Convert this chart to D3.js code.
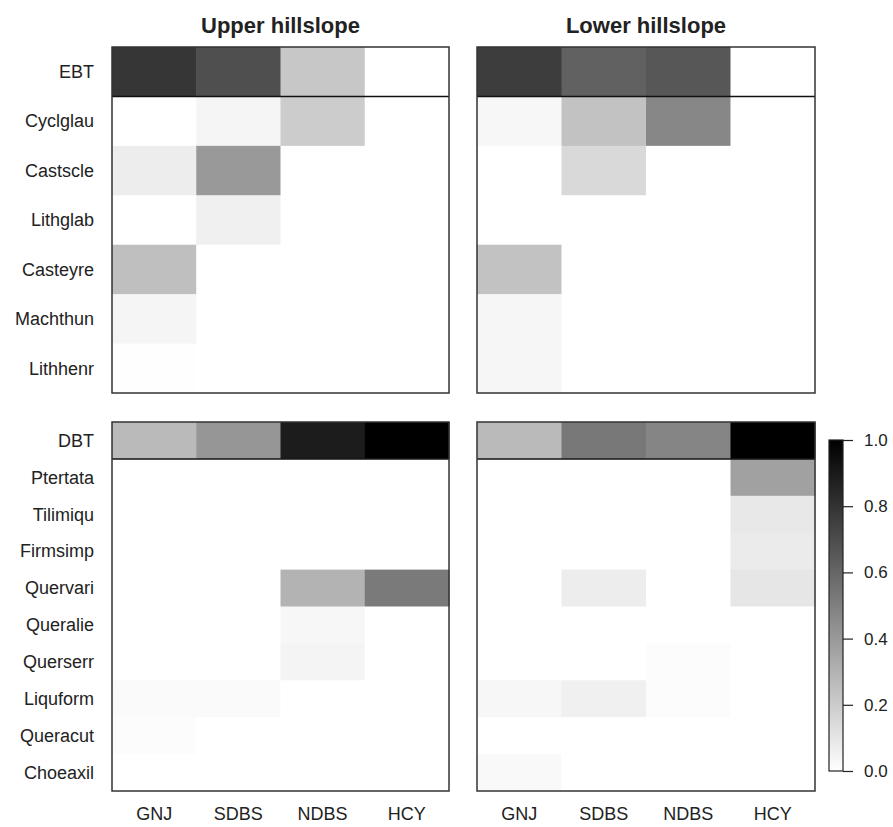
<!DOCTYPE html>
<html>
<head>
<meta charset="utf-8">
<script src="https://cdn.jsdelivr.net/npm/d3@7"></script>
<style>
  body { margin: 0; background: #fff; }
  text { font-family: "Liberation Sans", Arial, sans-serif; fill: #222; }
</style>
</head>
<body>
<div id="chart"></div>
<script>
// sites along x
const sites = ["GNJ", "SDBS", "NDBS", "HCY"];

// species of the evergreen block (first row is the EBT total)
const topRows = ["EBT", "Cyclglau", "Castscle", "Lithglab", "Casteyre", "Machthun", "Lithhenr"];
// species of the deciduous block (first row is the DBT total)
const bottomRows = ["DBT", "Ptertata", "Tilimiqu", "Firmsimp", "Quervari", "Queralie", "Querserr", "Liquform", "Queracut", "Choeaxil"];

const panelTitles = ["Upper hillslope", "Lower hillslope"];

// values per row, in site order GNJ, SDBS, NDBS, HCY
const upperTop = [
  [0.79, 0.69, 0.22, 0.00],
  [0.00, 0.04, 0.20, 0.00],
  [0.07, 0.40, 0.00, 0.00],
  [0.00, 0.06, 0.00, 0.00],
  [0.25, 0.00, 0.00, 0.00],
  [0.04, 0.00, 0.00, 0.00],
  [0.005, 0.00, 0.00, 0.00]
];
const lowerTop = [
  [0.76, 0.62, 0.66, 0.00],
  [0.03, 0.24, 0.47, 0.00],
  [0.00, 0.15, 0.00, 0.00],
  [0.00, 0.00, 0.00, 0.00],
  [0.24, 0.00, 0.00, 0.00],
  [0.035, 0.00, 0.00, 0.00],
  [0.035, 0.00, 0.00, 0.00]
];
const upperBottom = [
  [0.27, 0.41, 0.89, 1.00],
  [0.00, 0.00, 0.00, 0.00],
  [0.00, 0.00, 0.00, 0.00],
  [0.00, 0.00, 0.00, 0.00],
  [0.00, 0.00, 0.30, 0.52],
  [0.00, 0.00, 0.03, 0.00],
  [0.00, 0.00, 0.045, 0.00],
  [0.02, 0.02, 0.00, 0.00],
  [0.01, 0.00, 0.00, 0.00],
  [0.00, 0.00, 0.00, 0.00]
];
const lowerBottom = [
  [0.27, 0.53, 0.48, 1.00],
  [0.00, 0.00, 0.00, 0.37],
  [0.00, 0.00, 0.00, 0.09],
  [0.00, 0.00, 0.00, 0.08],
  [0.00, 0.07, 0.00, 0.10],
  [0.00, 0.00, 0.00, 0.00],
  [0.00, 0.00, 0.01, 0.00],
  [0.03, 0.06, 0.01, 0.00],
  [0.00, 0.00, 0.00, 0.00],
  [0.025, 0.00, 0.00, 0.00]
];

const legendTicks = [0, 0.2, 0.4, 0.6, 0.8, 1.0];

const width = 893, height = 827;

const svg = d3.select("#chart").append("svg")
  .attr("width", width)
  .attr("height", height);

// white -> black
const color = d3.scaleLinear().domain([0, 1]).range(["#ffffff", "#000000"]);

const cols = [[112, 449], [477, 815]];
const blocks = [
  { rows: topRows, y: [47, 393], data: [upperTop, lowerTop] },
  { rows: bottomRows, y: [422, 791], data: [upperBottom, lowerBottom] }
];

blocks.forEach((b, bi) => {
  const y = d3.scaleBand().domain(b.rows).range(b.y);
  cols.forEach((c, ci) => {
    const x = d3.scaleBand().domain(sites).range(c);
    const g = svg.append("g");
    const cells = [];
    b.data[ci].forEach((row, ri) => row.forEach((v, si) => cells.push({ r: b.rows[ri], s: sites[si], v })));

    g.selectAll("rect.cell")
      .data(cells)
      .join("rect")
      .attr("class", "cell")
      .attr("x", d => x(d.s))
      .attr("y", d => y(d.r))
      .attr("width", x.bandwidth() + 0.5)
      .attr("height", y.bandwidth() + 0.5)
      .attr("fill", d => color(d.v));

    // line under the total row
    g.append("line")
      .attr("x1", c[0]).attr("x2", c[1])
      .attr("y1", y(b.rows[1])).attr("y2", y(b.rows[1]))
      .attr("stroke", "#111").attr("stroke-width", 1.5);

    g.append("rect")
      .attr("x", c[0]).attr("y", b.y[0])
      .attr("width", c[1] - c[0]).attr("height", b.y[1] - b.y[0])
      .attr("fill", "none").attr("stroke", "#333").attr("stroke-width", 1.5);

    // row labels only on the left panels
    if (ci === 0) {
      g.selectAll("text.row")
        .data(b.rows)
        .join("text")
        .attr("class", "row")
        .attr("x", 94)
        .attr("y", d => y(d) + y.bandwidth() / 2)
        .attr("dy", "0.35em")
        .attr("text-anchor", "end")
        .attr("font-size", 18)
        .text(d => d);
    }

    if (bi === 0) {
      g.append("text")
        .attr("x", (c[0] + c[1]) / 2)
        .attr("y", 33)
        .attr("text-anchor", "middle")
        .attr("font-size", 22)
        .attr("font-weight", "bold")
        .text(panelTitles[ci]);
    } else {
      g.selectAll("text.site")
        .data(sites)
        .join("text")
        .attr("class", "site")
        .attr("x", d => x(d) + x.bandwidth() / 2)
        .attr("y", 820)
        .attr("text-anchor", "middle")
        .attr("font-size", 18)
        .text(d => d);
    }
  });
});

// colour bar
const lg = svg.append("g");
const ly = d3.scaleLinear().domain([0, 1]).range([771, 440]);
const grad = svg.append("defs").append("linearGradient")
  .attr("id", "grad").attr("x1", 0).attr("x2", 0).attr("y1", 1).attr("y2", 0);
grad.append("stop").attr("offset", 0).attr("stop-color", color(0));
grad.append("stop").attr("offset", 1).attr("stop-color", color(1));

lg.append("rect")
  .attr("x", 829).attr("y", ly(1))
  .attr("width", 14).attr("height", ly(0) - ly(1))
  .attr("fill", "url(#grad)")
  .attr("stroke", "#222").attr("stroke-width", 1.2);

lg.append("g")
  .attr("transform", "translate(843,0)")
  .call(d3.axisRight(ly).tickValues(legendTicks).tickFormat(d3.format(".1f")).tickSize(10).tickPadding(11))
  .call(a => a.select(".domain").remove())
  .call(a => a.selectAll("text").attr("font-size", 17).attr("font-family", "Liberation Sans, Arial, sans-serif").attr("fill", "#222"))
  .call(a => a.selectAll("line").attr("stroke", "#222").attr("stroke-width", 1.2));
</script>
</body>
</html>
